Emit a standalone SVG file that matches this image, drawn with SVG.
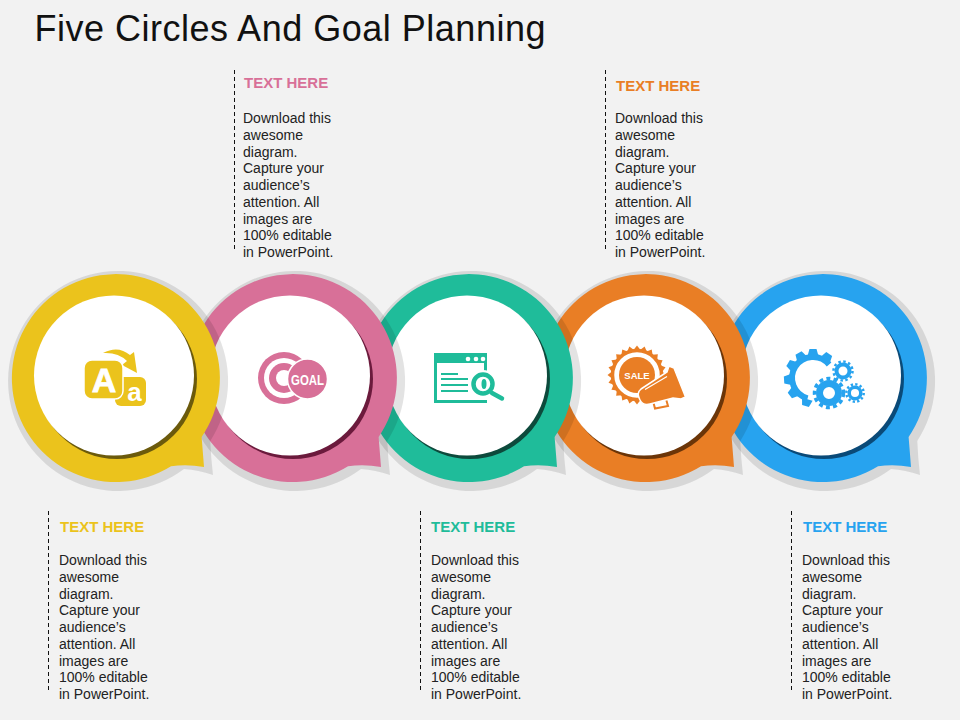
<svg xmlns="http://www.w3.org/2000/svg" xmlns:xlink="http://www.w3.org/1999/xlink" width="960" height="720" viewBox="0 0 960 720">
<style>
text{font-family:"Liberation Sans",Arial,sans-serif}
.title{font-size:36px;fill:#111}
.h{font-size:15px;font-weight:bold}
.b{font-size:14px;fill:#222}
.dash{stroke:#111;stroke-width:1;stroke-dasharray:4 3;fill:none}
.shadow{fill:#000;fill-opacity:.11}
.white{fill:#fff}
.y{fill:#ebc31c}.p{fill:#d87098}.t{fill:#1fbc9a}.o{fill:#e97e25}.c{fill:#27a3ef}
.icon-w{font-weight:bold;fill:#fff;text-anchor:middle}
</style>
<defs>
<path id="bubble" d="M85.6 59Q87 76 88 89Q71 86 55 88.3A104 104 0 1 1 85.6 59Z"/>
<path id="bubbleShadow" d="M94.3 62.9Q95 80 97 97Q82 92 68 91A110 110 0 1 1 94.3 62.9Z"/>
<path id="tooth" d="M-5.500 -22L-3.500 -29H3.500L5.500 -22Z"/>
<path id="spike" d="M-3.500 -25L0 -29.500L3.500 -25Z"/>
<g id="spikes4"><use href="#spike"/><use href="#spike" transform="rotate(15)"/><use href="#spike" transform="rotate(30)"/><use href="#spike" transform="rotate(45)"/></g>
<g id="body">
<text class="b" y="0">Download this</text>
<text class="b" y="16.750">awesome</text>
<text class="b" y="33.500">diagram.</text>
<text class="b" y="50.250">Capture your</text>
<text class="b" y="67">audience’s</text>
<text class="b" y="83.750">attention. All</text>
<text class="b" y="100.500">images are</text>
<text class="b" y="117.250">100% editable</text>
<text class="b" y="134">in PowerPoint.</text>
</g>
</defs>
<rect width="960" height="720" fill="#f2f2f2"/>
<text class="title" x="34.500" y="41" textLength="511" lengthAdjust="spacing">Five Circles And Goal Planning</text>

<g id="connectors">
<path class="dash" d="M234.500 70V250M605.500 70V250M48.500 511V692M420.500 511V692M791.500 511V692"/>
</g>

<g id="node-blue">
<use href="#bubbleShadow" class="shadow" x="823" y="378"/>
<use href="#bubble" class="c" x="823" y="378"/>
<circle cx="824" cy="379" r="80" fill="#0a4a78"/>
<circle cx="821" cy="375.500" r="80" class="white"/>
<path d="M829.100 364.500A21 21 0 1 0 807.600 398.300" fill="none" stroke="#27a3ef" stroke-width="6"/>
<g class="c" transform="translate(813 378)">
<use href="#tooth"/><use href="#tooth" transform="rotate(34)"/><use href="#tooth" transform="rotate(-30)"/><use href="#tooth" transform="rotate(-59)"/><use href="#tooth" transform="rotate(-94)"/><use href="#tooth" transform="rotate(-127)"/><use href="#tooth" transform="rotate(-165)"/>
</g>
<g fill="none" stroke="#27a3ef">
<circle cx="829" cy="393" r="9.500" stroke-width="7"/>
<circle cx="829" cy="393" r="14.500" stroke-width="3.500" stroke-dasharray="4 3.250"/>
<circle cx="843" cy="371" r="6.500" stroke-width="4"/>
<circle cx="843" cy="371" r="9.500" stroke-width="2.500" stroke-dasharray="2.500 2.470"/>
<circle cx="855" cy="393" r="5.800" stroke-width="3.500"/>
<circle cx="855" cy="393" r="8.700" stroke-width="2.500" stroke-dasharray="2.300 2.250"/>
</g>
</g>

<g id="node-orange">
<use href="#bubbleShadow" class="shadow" x="646" y="378"/>
<use href="#bubble" class="o" x="646" y="378"/>
<circle cx="647" cy="379" r="80" fill="#6b3508"/>
<circle cx="644" cy="375.500" r="80" class="white"/>
<circle cx="637" cy="375" r="24.500" fill="none" stroke="#e97e25" stroke-width="3.500"/>
<g class="o" transform="translate(637 375)">
<use href="#spikes4"/><use href="#spikes4" transform="rotate(60)"/><use href="#spikes4" transform="rotate(120)"/><use href="#spikes4" transform="rotate(180)"/><use href="#spikes4" transform="rotate(240)"/><use href="#spikes4" transform="rotate(300)"/>
</g>
<circle cx="637" cy="375" r="18" class="o"/>
<text class="icon-w" x="637" y="378.500" font-size="9.500">SALE</text>
<path d="M653 401L655 408.500L668 406L666 399" fill="#fff" stroke="#e97e25" stroke-width="2"/>
<path d="M641 389L667 372L669 366L674 368L685.500 397L681 399L673 398L650 404Q643 406 640 400Q636 393 641 389Z" class="o" stroke="#fff" stroke-width="1.500"/>
<path d="M645 389.500L667 376.500" stroke="#fff" stroke-width="1.200"/>
</g>

<g id="node-teal">
<use href="#bubbleShadow" class="shadow" x="469" y="378"/>
<use href="#bubble" class="t" x="469" y="378"/>
<circle cx="470" cy="379" r="80" fill="#0d4a3c"/>
<circle cx="467" cy="375.500" r="80" class="white"/>
<path d="M434 353H487V371H484V363H437V400H487V403H434Z" class="t"/>
<g class="white"><circle cx="468" cy="359" r="2.300"/><circle cx="476" cy="359" r="2.300"/><circle cx="483" cy="359" r="2.300"/></g>
<path d="M441 374H458M441 379H468M441 385H468M441 391H468" stroke="#1fbc9a" stroke-width="2"/>
<circle cx="483" cy="384" r="14" class="white"/>
<circle cx="483" cy="384" r="9.500" fill="#fff" stroke="#1fbc9a" stroke-width="4.500"/>
<ellipse cx="484" cy="384" rx="2.500" ry="5" class="t"/>
<path d="M492 393L502 398.500" stroke="#1fbc9a" stroke-width="4.500" stroke-linecap="round"/>
</g>

<g id="node-pink">
<use href="#bubbleShadow" class="shadow" x="293" y="378"/>
<use href="#bubble" class="p" x="293" y="378"/>
<circle cx="293" cy="379" r="80" fill="#6b1a3c"/>
<circle cx="290" cy="375.500" r="80" class="white"/>
<circle cx="284" cy="378" r="26" class="p"/>
<circle cx="284" cy="378" r="20" class="white"/>
<circle cx="284" cy="378" r="15" class="p"/>
<circle cx="284" cy="378" r="8" class="white"/>
<circle cx="307.500" cy="379" r="20" class="p" stroke="#fff" stroke-width="1.500"/>
<text class="icon-w" x="307.500" y="384.500" font-size="15" textLength="33" lengthAdjust="spacingAndGlyphs">GOAL</text>
</g>

<g id="node-yellow">
<use href="#bubbleShadow" class="shadow" x="116" y="378"/>
<use href="#bubble" class="y" x="116" y="378"/>
<circle cx="117" cy="379" r="80" fill="#6b5a0c"/>
<circle cx="114" cy="375.500" r="80" class="white"/>
<path d="M103 353Q118 345 130 355L134 352L137 373L122 365L127 361Q118 352 103 353Z" class="y"/>
<rect x="115" y="377" width="31" height="29" rx="6" class="y"/>
<rect x="84" y="360" width="39" height="39" rx="8" class="y" stroke="#fff" stroke-width="1.500"/>
<text class="icon-w" x="104" y="392" font-size="34" stroke="#fff" stroke-width=".8">A</text>
<text class="icon-w" x="134.500" y="401" font-size="26">a</text>
</g>

<g id="callout-pink"><text class="h p" x="244" y="88">TEXT HERE</text><use href="#body" x="243" y="123"/></g>
<g id="callout-orange"><text class="h o" x="616" y="91">TEXT HERE</text><use href="#body" x="615" y="123"/></g>
<g id="callout-yellow"><text class="h y" x="60" y="532">TEXT HERE</text><use href="#body" x="59" y="565"/></g>
<g id="callout-teal"><text class="h t" x="431" y="532">TEXT HERE</text><use href="#body" x="431" y="565"/></g>
<g id="callout-blue"><text class="h c" x="803" y="532">TEXT HERE</text><use href="#body" x="802" y="565"/></g>
</svg>
